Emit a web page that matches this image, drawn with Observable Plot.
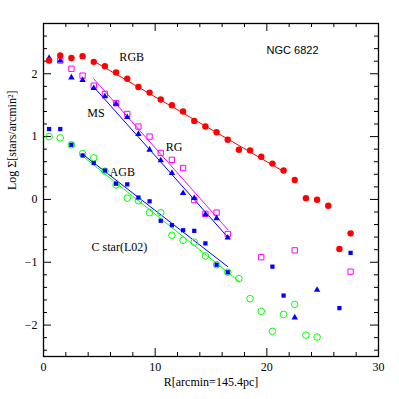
<!DOCTYPE html>
<html><head><meta charset="utf-8">
<script src="https://cdn.jsdelivr.net/npm/d3@7"></script>
<script src="https://cdn.jsdelivr.net/npm/@observablehq/plot@0.6"></script>
<style>body{margin:0;background:#fff}</style>
</head><body><div id="chart"></div>
<script>
// RGB (red filled circles)
const rgbR = [0.5,1.5,2.5,3.5,4.5,5.5,6.5,7.5,8.5,9.5,10.5,11.5,12.5,13.5,14.5,15.5,16.5,17.5,18.5,19.5,20.5,21.5,22.5,23.5,24.5,25.5,26.5,27.5];
const rgbLog = [2.21,2.29,2.25,2.28,2.19,2.12,2.02,1.92,1.79,1.70,1.59,1.50,1.40,1.25,1.16,1.07,0.95,0.79,0.78,0.68,0.57,0.46,0.31,0.02,-0.005,-0.10,-0.79,-0.54];
// MS (blue filled triangles)
const msR = [0.5,1.5,2.5,3.5,4.5,5.5,6.5,7.5,8.5,9.5,10.5,11.5,12.5,13.5,14.5,15.5,16.5,22.5,24.5];
const msLog = [2.25,2.21,1.94,1.90,1.77,1.64,1.52,1.31,1.04,0.79,0.62,0.42,0.10,0.02,-0.24,-0.30,-0.61,-1.88,-1.44];
// RG (magenta open squares)
const rgR = [1.5,2.5,3.5,4.5,5.5,6.5,7.5,8.5,9.5,10.5,11.5,12.5,13.5,14.5,15.5,16.5,19.5,22.5,27.5];
const rgLog = [2.21,2.08,1.97,1.81,1.68,1.53,1.36,1.16,1.00,0.74,0.63,0.50,-0.01,-0.23,-0.21,-0.55,-0.92,-0.81,-1.15];
// AGB (blue filled squares)
const agbR = [0.5,1.5,2.5,3.5,4.5,5.5,6.5,7.5,8.5,9.5,10.5,11.5,12.5,13.5,14.5,15.5,16.5,20.5,21.5,26.5,27.5];
const agbLog = [1.12,1.12,0.87,0.70,0.58,0.46,0.25,0.24,0.03,-0.03,-0.34,-0.41,-0.49,-0.50,-0.70,-1.04,-1.16,-1.07,-1.53,-1.73,-0.85];
// C star (L02) (green open circles)
const cR = [0.5,1.5,2.5,3.5,4.5,5.5,6.5,7.5,8.5,9.5,10.5,11.5,12.5,13.5,14.5,15.5,16.5,17.5,18.5,19.5,20.5,21.5,22.5,23.5,24.5];
const cLog = [1.00,0.98,0.87,0.73,0.66,0.45,0.23,0.02,-0.02,-0.21,-0.21,-0.57,-0.65,-0.68,-0.90,-1.04,-1.16,-1.26,-1.58,-1.78,-2.10,-1.83,-1.67,-2.16,-2.19];
// linear fits (endpoints in data units)
const rgbFitR = [4.5, 21.65], rgbFitLog = [2.20, 0.43];
const msFitR = [4.5, 16.6], msFitLog = [1.79, -0.62];
const rgFitR = [4.5, 16.5], rgFitLog = [1.92, -0.48];
const agbFitR = [3.5, 16.5], agbFitLog = [0.72, -1.07];
const cFitR = [3.5, 17.55], cFitLog = [0.69, -1.31];
// annotations
const labelText = ["RGB","MS","RG","AGB","C star(L02)"];
const labelR = [7.9, 4.7, 11.7, 7.05, 6.8];
const labelLog = [2.27, 1.37, 0.83, 0.43, -0.76];
const titleText = ["NGC 6822"], titleR = [22.3], titleLog = [2.37];
// ticks
const xMajor = [0,10,20,30];
const xMinor = [2,4,6,8,12,14,16,18,22,24,26,28];
const yMajor = [-2,-1,0,1,2];
const yMinor = [-2.4,-2.2,-1.8,-1.6,-1.4,-1.2,-0.8,-0.6,-0.4,-0.2,0.2,0.4,0.6,0.8,1.2,1.4,1.6,1.8,2.2,2.4,2.6];
const xLabel = "R[arcmin=145.4pc]";
const yLabel = "Log Σ[stars/arcmin²]";

const W = 399, H = 399, ML = 43, MR = 21, MT = 23, MB = 43;
const PW = W - ML - MR, PH = H - MT - MB;
const MAJ = 8, MIN = 4;

const pts = (xs, ys) => xs.map((x, i) => ({x, y: ys[i]}));
const id = d => d;

const chart = Plot.plot({
  width: W, height: H,
  marginLeft: ML, marginRight: MR, marginTop: MT, marginBottom: MB,
  style: {fontFamily: "'Liberation Serif', serif", fontSize: "12px", background: "#fff", color: "#000"},
  x: {domain: [0, 30]},
  y: {domain: [-2.5, 2.8]},
  marks: [
    // inward ticks on all four sides
    Plot.tickX(xMajor, {x: id, insetTop: PH - MAJ, stroke: "#000"}),
    Plot.tickX(xMinor, {x: id, insetTop: PH - MIN, stroke: "#000"}),
    Plot.tickX(xMajor, {x: id, insetBottom: PH - MAJ, stroke: "#000"}),
    Plot.tickX(xMinor, {x: id, insetBottom: PH - MIN, stroke: "#000"}),
    Plot.tickY(yMajor, {y: id, insetRight: PW - MAJ, stroke: "#000"}),
    Plot.tickY(yMinor, {y: id, insetRight: PW - MIN, stroke: "#000"}),
    Plot.tickY(yMajor, {y: id, insetLeft: PW - MAJ, stroke: "#000"}),
    Plot.tickY(yMinor, {y: id, insetLeft: PW - MIN, stroke: "#000"}),
    Plot.axisX({anchor: "bottom", ticks: xMajor, tickSize: 0, tickPadding: 6, label: null}),
    Plot.axisY({anchor: "left", ticks: yMajor, tickSize: 0, tickPadding: 6, label: null, tickFormat: d => d < 0 ? "\u2212" + Math.abs(d) : String(d)}),
    Plot.frame({stroke: "#000", strokeWidth: 1.3}),
    Plot.text([xLabel], {frameAnchor: "bottom", dy: 26, lineAnchor: "middle", fontSize: 12}),
    Plot.text([yLabel], {frameAnchor: "left", dx: -31, rotate: -90, lineAnchor: "middle", fontSize: 12}),
    Plot.line(pts(rgbFitR, rgbFitLog), {x: "x", y: "y", stroke: "#ff0000", strokeWidth: 1}),
    Plot.line(pts(msFitR, msFitLog), {x: "x", y: "y", stroke: "#0000ff", strokeWidth: 1}),
    Plot.line(pts(rgFitR, rgFitLog), {x: "x", y: "y", stroke: "#ff00ff", strokeWidth: 1}),
    Plot.line(pts(agbFitR, agbFitLog), {x: "x", y: "y", stroke: "#0000ff", strokeWidth: 1}),
    Plot.line(pts(cFitR, cFitLog), {x: "x", y: "y", stroke: "#00ff00", strokeWidth: 1}),
    Plot.dot(pts(cR, cLog), {x: "x", y: "y", r: 3.3, stroke: "#00ff00", fill: "none", strokeWidth: 1}),
    Plot.dot(pts(rgR, rgLog), {x: "x", y: "y", symbol: "square", r: 3.0, stroke: "#ff00ff", fill: "none", strokeWidth: 1}),
    Plot.dot(pts(agbR, agbLog), {x: "x", y: "y", symbol: "square", r: 2.4, fill: "#0000ff", stroke: "none"}),
    Plot.dot(pts(msR, msLog), {x: "x", y: "y", symbol: "triangle", r: 2.4, fill: "#0000ff", stroke: "none"}),
    Plot.dot(pts(rgbR, rgbLog), {x: "x", y: "y", r: 3.2, fill: "#ff0000", stroke: "none"}),
    Plot.text(labelText, {x: (d, i) => labelR[i], y: (d, i) => labelLog[i], text: id, fontSize: 12}),
    Plot.text(titleText, {x: (d, i) => titleR[i], y: (d, i) => titleLog[i], text: id, fontSize: 11, fontFamily: "'Liberation Sans', sans-serif"})
  ]
});
document.getElementById("chart").appendChild(chart);
</script>
</body></html>
